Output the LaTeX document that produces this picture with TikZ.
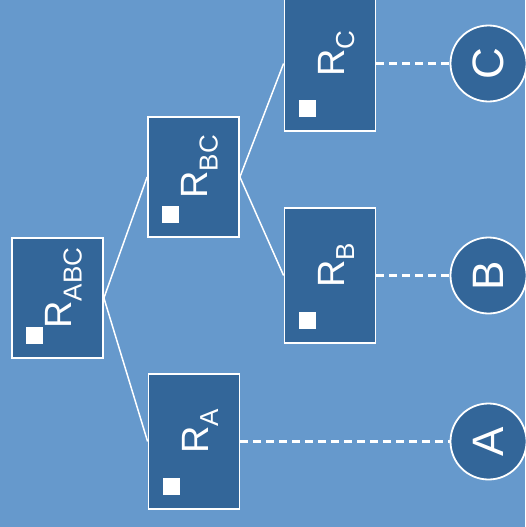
\documentclass[tikz,border=0pt]{standalone}
\usepackage{fontspec}
\setmainfont{Liberation Sans}
\usetikzlibrary{positioning}
\definecolor{bgblue}{HTML}{6699CC}
\definecolor{boxblue}{HTML}{336699}
\newcommand{\rsub}[1]{\raisebox{-10pt}{\fontsize{26}{26}\selectfont #1}}

\begin{document}
\begin{tikzpicture}[x=1pt,y=-1pt,on grid,line width=1.5pt]
  \tikzstyle{rbox}=[rectangle,draw=white,line width=1.8pt,fill=boxblue,minimum width=91pt,minimum height=120pt,
    path picture={\fill[white] ([xshift=14pt,yshift=14pt]path picture bounding box.south west) rectangle +(17pt,17pt);}]
  \tikzstyle{rleaf}=[rbox,minimum height=135pt]
  \tikzstyle{rname}=[rotate=90,anchor=base,text=white,inner sep=0pt,font=\fontsize{38}{38}\selectfont]
  \tikzstyle{item}=[circle,draw=white,line width=1.8pt,fill=boxblue,minimum size=76pt,inner sep=0pt,
    text=white,rotate=90,font=\fontsize{44}{44}\selectfont]
  \tikzstyle{link}=[draw=white,line width=2.2pt,dash pattern=on 8pt off 5pt]

  \fill[bgblue] (0,0) rectangle (525,527);
  \useasboundingbox (0,0) rectangle (525,527);

  % boxes of the tree
  \node[rbox]  (abc) at (57.5,298) {};
  \node[rbox]  (bc) [above right=121pt and 136pt of abc] {};
  \node[rleaf] (a)  [below right=143.5pt and 136.5pt of abc] {};
  \node[rleaf] (c)  [above right=113.5pt and 136.5pt of bc] {};
  \node[rleaf] (b)  [below right=98.5pt and 136.5pt of bc] {};

  \node[rname] (abcl) at ([xshift=14pt,yshift=10pt]abc.center) {R\rsub{ABC}};
  \node[rname] (bcl)  at ([xshift=14pt,yshift=10pt]bc.center)  {R\rsub{BC}};
  \node[rname] (al)   at ([xshift=14pt,yshift=10pt]a.center)   {R\rsub{A}};
  \node[rname] (bl)   at ([xshift=14pt,yshift=10pt]b.center)   {R\rsub{B}};
  \node[rname] (cl)   at ([xshift=14pt,yshift=10pt]c.center)   {R\rsub{C}};

  % items
  \node[item] (ci) [right=158.5pt of c] {C};
  \node[item] (bi) [right=158.5pt of b] {B};
  \node[item] (ai) [right=294.5pt of a] {A};

  \draw[white] (abc.east) -- (bc.west);
  \draw[white] (abc.east) -- (a.west);
  \draw[white] (bc.east) -- (c.west);
  \draw[white] (bc.east) -- (b.west);

  \path[link] (c) -- (ci);
  \path[link] (b) -- (bi);
  \path[link] (a) -- (ai);
\end{tikzpicture}
\end{document}
